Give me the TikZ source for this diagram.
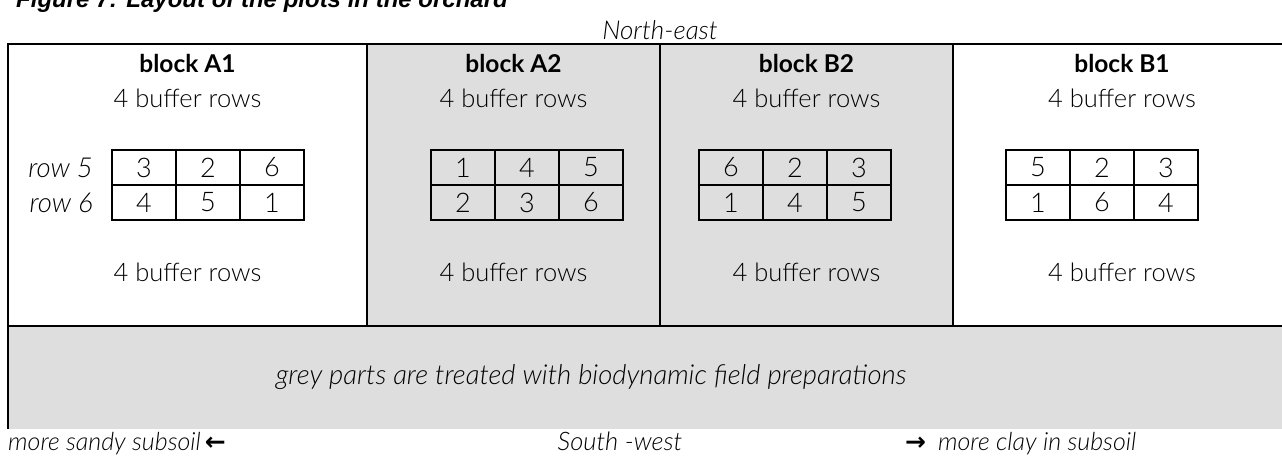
\documentclass[tikz,border=0pt]{standalone}
\usepackage{fontspec}
\setmainfont{Lato}[UprightFont={* Light}, ItalicFont={* Light Italic}, BoldFont={* Bold}, BoldItalicFont={* Bold Italic}]
\newfontfamily\titlefont{Liberation Sans}
\newfontfamily\arrowfont{DejaVu Sans}
\definecolor{plotgrey}{HTML}{DEDEDE}
\begin{document}
\begin{tikzpicture}[x=1pt,y=-1pt,
  frame/.style={line width=2.4pt},
  cell/.style={draw, line width=2pt, minimum width=64pt, minimum height=35pt, inner sep=0pt, font=\fontsize{27}{30}\selectfont},
  txt/.style={inner sep=0pt, font=\fontsize{25.5}{28}\selectfont},
  ttl/.style={inner sep=0pt, font=\fontsize{24.5}{28}\selectfont\bfseries},
  lbl/.style={inner sep=0pt, font=\fontsize{26}{28}\selectfont\itshape}]
\useasboundingbox (0,0) rectangle (1282,456);
% grey areas
\fill[plotgrey] (367,44) rectangle (953,326);
\fill[plotgrey] (8,326) rectangle (1295,429);
% frame
\draw[frame] (1295,44) -- (8,44) -- (8,429);
\draw[frame] (8,326) -- (1295,326);
\draw[frame] (367,44) -- (367,326);
\draw[frame] (660,44) -- (660,326);
\draw[frame] (953,44) -- (953,326);
% title (cut off at the top)
\node[anchor=base west, inner sep=0pt, font=\titlefont\fontsize{24}{28}\selectfont\bfseries\itshape] (title) at (16,7) {Figure 7: Layout of the plots in the orchard};
\node[lbl] (ne) at (660,30) {North-east};
% block A1
\node[ttl] (tA1) at (187.5,63) {block A1};
\node[txt] (uA1) at (187.5,98) {4 buffer rows};
\node[txt] (lA1) at (187.5,272) {4 buffer rows};
\node[lbl, anchor=east, font=\fontsize{27.5}{30}\selectfont\itshape] (r5) at (93,167.5) {row 5};
\node[lbl, anchor=east, font=\fontsize{27.5}{30}\selectfont\itshape] (r6) at (93,202.5) {row 6};
\node[cell] (a1a) at (144,167.5) {3};
\node[cell] (a1b) at (208,167.5) {2};
\node[cell] (a1c) at (272,167.5) {6};
\node[cell] (a1d) at (144,202.5) {4};
\node[cell] (a1e) at (208,202.5) {5};
\node[cell] (a1f) at (272,202.5) {1};
% block A2
\node[ttl] (tA2) at (513.5,63) {block A2};
\node[txt] (uA2) at (513.5,98) {4 buffer rows};
\node[txt] (lA2) at (513.5,272) {4 buffer rows};
\node[cell] (a2a) at (463,167.5) {1};
\node[cell] (a2b) at (527,167.5) {4};
\node[cell] (a2c) at (591,167.5) {5};
\node[cell] (a2d) at (463,202.5) {2};
\node[cell] (a2e) at (527,202.5) {3};
\node[cell] (a2f) at (591,202.5) {6};
% block B2
\node[ttl] (tB2) at (806.5,63) {block B2};
\node[txt] (uB2) at (806.5,98) {4 buffer rows};
\node[txt] (lB2) at (806.5,272) {4 buffer rows};
\node[cell] (b2a) at (731,167.5) {6};
\node[cell] (b2b) at (795,167.5) {2};
\node[cell] (b2c) at (859,167.5) {3};
\node[cell] (b2d) at (731,202.5) {1};
\node[cell] (b2e) at (795,202.5) {4};
\node[cell] (b2f) at (859,202.5) {5};
% block B1
\node[ttl] (tB1) at (1122,63) {block B1};
\node[txt] (uB1) at (1122,98) {4 buffer rows};
\node[txt] (lB1) at (1122,272) {4 buffer rows};
\node[cell] (b1a) at (1038,167.5) {5};
\node[cell] (b1b) at (1102,167.5) {2};
\node[cell] (b1c) at (1166,167.5) {3};
\node[cell] (b1d) at (1038,202.5) {1};
\node[cell] (b1e) at (1102,202.5) {6};
\node[cell] (b1f) at (1166,202.5) {4};
% bottom
\node[lbl, font=\fontsize{27.5}{30}\selectfont\itshape] (grey) at (591,377) {grey parts are treated with biodynamic field preparations};
\node[lbl, anchor=base west, font=\fontsize{25}{28}\selectfont\itshape] (sandy) at (8,450) {more sandy subsoil\hspace{4pt}{\upshape\arrowfont\bfseries ←}};
\node[lbl, anchor=base, font=\fontsize{25.5}{28}\selectfont\itshape] (sw) at (620,450) {South -west};
\node[lbl, anchor=base west, font=\fontsize{25}{28}\selectfont\itshape] (clay) at (905,450) {{\upshape\arrowfont\bfseries →}\hspace{12pt}more clay in subsoil};
\end{tikzpicture}
\end{document}
